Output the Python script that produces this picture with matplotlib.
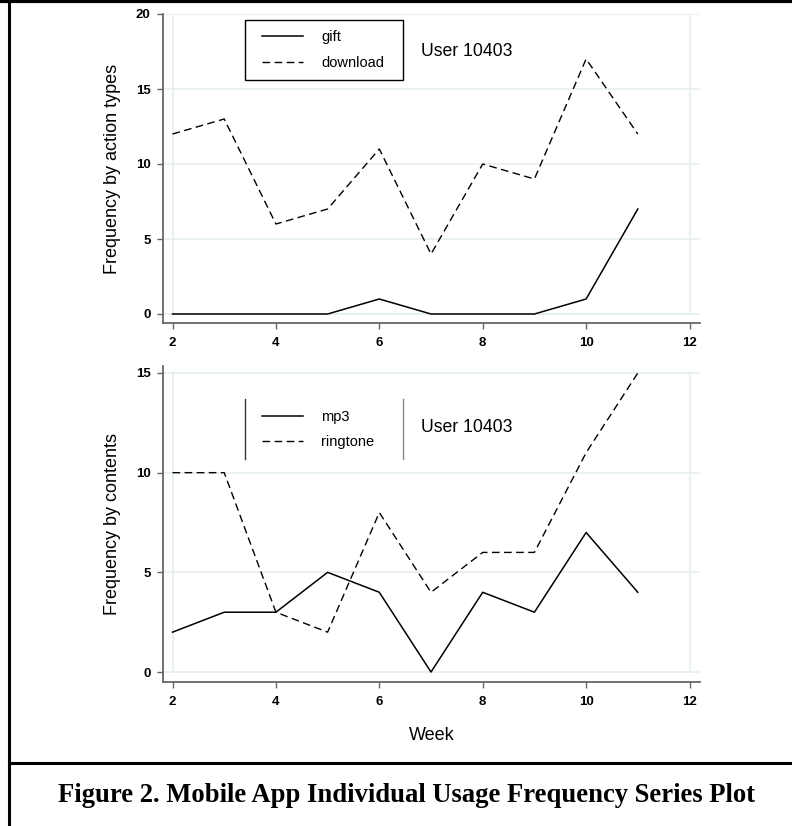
import matplotlib
matplotlib.use("Agg")
import matplotlib.pyplot as plt
from matplotlib.lines import Line2D
from matplotlib.patches import Rectangle

# data
weeks = [2, 3, 4, 5, 6, 7, 8, 9, 10, 11]
gift = [0, 0, 0, 0, 1, 0, 0, 0, 1, 7]
download = [12, 13, 6, 7, 11, 4, 10, 9, 17, 12]
mp3 = [2, 3, 3, 5, 4, 0, 4, 3, 7, 4]
ringtone = [10, 10, 3, 2, 8, 4, 6, 6, 11, 15]

x_ticks = [2, 4, 6, 8, 10, 12]
top_yticks = [0, 5, 10, 15, 20]
bottom_yticks = [0, 5, 10, 15]
user_label = "User 10403"

plt.rcParams["font.family"] = ["Liberation Sans", "DejaVu Sans"]

W, H = 792, 826
fig = plt.figure(figsize=(W / 100, H / 100), dpi=100)

grid_col = "#e6eff1"
spine_col = "#666666"
dash = (0, (5.5, 3.2))


def px_rect(x0, y_top, x1, y_bot):
    return [x0 / W, 1 - y_bot / H, (x1 - x0) / W, (y_bot - y_top) / H]


def style_axes(ax, yticks, ylim, ylabel):
    ax.set_xlim(1.816, 12.203)
    ax.set_ylim(*ylim)
    ax.set_xticks(x_ticks)
    ax.set_yticks(yticks)
    for s in ("top", "right"):
        ax.spines[s].set_visible(False)
    for s in ("left", "bottom"):
        ax.spines[s].set_color(spine_col)
        ax.spines[s].set_linewidth(1.3)
    ax.tick_params(direction="out", length=4, width=1, color=spine_col,
                   labelsize=9.5)
    ax.tick_params(axis="x", pad=6)
    ax.tick_params(axis="y", pad=5)
    for lab in ax.get_xticklabels() + ax.get_yticklabels():
        lab.set_fontweight("bold")
    for t in yticks:
        ax.axhline(t, color=grid_col, lw=1.2, zorder=0)
    ax.add_patch(Rectangle((2, 0), 10, yticks[-1], fill=False,
                           ec=grid_col, lw=1.2, zorder=0))
    ax.set_ylabel(ylabel, fontsize=13)
    ax.yaxis.set_label_coords(-(163 - 121) / (700 - 163), 0.5)


def add_legend(ax, row1_y, spacing):
    fs_px = 10.5 * 100 / 72
    ls = (spacing - 13.2) / fs_px
    return ax.legend(loc="upper left", bbox_to_anchor=(262 / W, 1 - (row1_y - 6.6) / H),
                     bbox_transform=fig.transFigure, borderaxespad=0, borderpad=0,
                     frameon=False, fontsize=10.5, handlelength=2.8,
                     handletextpad=1.25, labelspacing=ls)


# top panel
ax1 = fig.add_axes(px_rect(163, 14, 700, 323))
ax1.plot(weeks, gift, color="black", lw=1.1, label="gift")
ax1.plot(weeks, download, color="black", lw=1.0, linestyle=dash, label="download")
style_axes(ax1, top_yticks, (-0.6, 20), "Frequency by action types")
add_legend(ax1, 37, 25)
fig.add_artist(Rectangle((245 / W, 1 - 80 / H), 158 / W, 60 / H, fill=False,
                         ec="black", lw=1.0, transform=fig.transFigure))
fig.text(421 / W, 1 - 52 / H, user_label, fontsize=12.7, va="center", ha="left")

# bottom panel
ax2 = fig.add_axes(px_rect(163, 366, 700, 682))
ax2.plot(weeks, mp3, color="black", lw=1.1, label="mp3")
ax2.plot(weeks, ringtone, color="black", lw=1.0, linestyle=dash, label="ringtone")
style_axes(ax2, bottom_yticks, (-0.5, 15.35), "Frequency by contents")
ax2.set_xlabel("Week", fontsize=13, labelpad=14)
add_legend(ax2, 417, 24)
fig.add_artist(Line2D([245 / W, 245 / W], [1 - 399 / H, 1 - 459 / H],
                      color="#333333", lw=1.0))
fig.add_artist(Line2D([403 / W, 403 / W], [1 - 399 / H, 1 - 459 / H],
                      color="#888888", lw=1.0))
fig.text(421 / W, 1 - 428 / H, user_label, fontsize=12.7, va="center", ha="left")

# outer frame and caption
fig.add_artist(Line2D([9 / W, 9 / W], [0, 1], color="black", lw=2.2))
fig.add_artist(Line2D([0, 1], [1 - 1 / H, 1 - 1 / H], color="black", lw=3))
fig.add_artist(Line2D([9 / W, 1], [1 - 763 / H, 1 - 763 / H], color="black", lw=2.2))
fig.text(406 / W, 1 - 796 / H,
         "Figure 2. Mobile App Individual Usage Frequency Series Plot",
         fontsize=19.2, fontweight="bold", family="Liberation Serif",
         ha="center", va="center")

fig.savefig("out.png", dpi=100)
